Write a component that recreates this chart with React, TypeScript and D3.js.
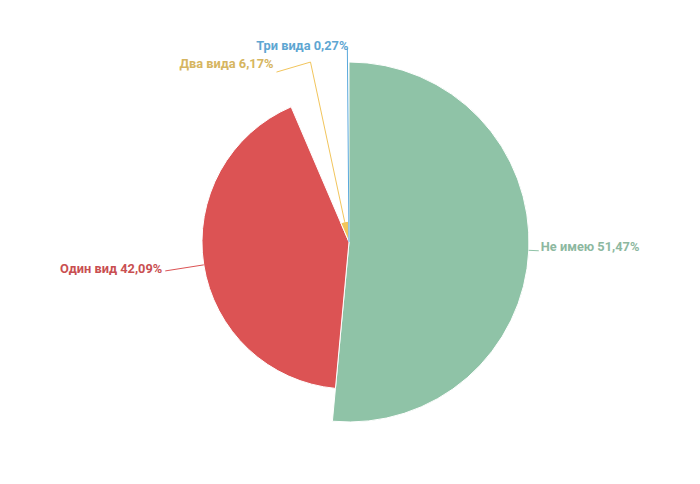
import React from "react";
import * as d3 from "d3";

const categories = ["Не имею", "Один вид", "Два вида", "Три вида"];
const values = [51.47, 42.09, 6.17, 0.27];
const labelTexts = ["Не имею 51,47%", "Один вид 42,09%", "Два вида 6,17%", "Три вида 0,27%"];

const sliceColors = ["#8fc3a7", "#dc5354", "#f2c55c", "#5aa9dc"];
const textColors = ["#8db8a0", "#c94f51", "#d6b560", "#5ea6d2"];

const W = 700;
const H = 484;
const cx = 349;
const cy = 242;
const maxR = 180;

// label layout (radius of elbow, extra text shift)
const elbowR = [190, 186, 184, 191];
const textShiftY = [-4, -2, -8, -5];
const tailLen = [0, 0, 34, 2];

export default function App() {
  const pie = d3
    .pie<number>()
    .sort(null)
    .value((d) => d)(values);
  const ext = d3.extent(values) as [number, number];
  const rScale = d3.scaleLinear().domain(ext).range([0, maxR]);
  const polar = (a: number, r: number): [number, number] => [
    cx + r * Math.sin(a),
    cy - r * Math.cos(a),
  ];

  return (
    <svg
      width={W}
      height={H}
      style={{ position: "absolute", left: 0, top: 0 }}
      fontFamily="Roboto, sans-serif"
    >
      <rect width={W} height={H} fill="#fff" />
      {pie.map((p, i) => {
        const r = rScale(values[i]);
        const arc = d3.arc<any>().innerRadius(0).outerRadius(r);
        return (
          <path
            key={"s" + i}
            d={arc(p) || ""}
            transform={`translate(${cx},${cy})`}
            fill={sliceColors[i]}
            stroke="#fff"
            strokeWidth={1}
            strokeLinejoin="round"
          />
        );
      })}
      {pie.map((p, i) => {
        const r = rScale(values[i]);
        const mid = (p.startAngle + p.endAngle) / 2;
        const p0 = polar(mid, r);
        const p1 = polar(mid, elbowR[i]);
        const right = Math.sin(mid) > 0;
        const ty = p1[1] + textShiftY[i];
        let p2: [number, number];
        if (i === 2) p2 = [p1[0] - tailLen[i], p1[1] + 10];
        else if (i === 3) p2 = [p1[0], p1[1] - 3];
        else p2 = [p1[0] + (right ? tailLen[i] : -tailLen[i]), p1[1]];
        const tx = i === 3 ? p2[0] + 1 : p2[0] + (right ? 2 : -3);
        return (
          <g key={"l" + i}>
            <polyline
              points={[p0, p1, p2].map((q) => q.join(",")).join(" ")}
              fill="none"
              stroke={sliceColors[i]}
              strokeWidth={1}
            />
            <text
              x={tx}
              y={i === 2 ? 64 : ty}
              dy="0.35em"
              textAnchor={right ? "start" : "end"}
              fontSize={12.8}
              fontWeight="bold"
              fill={textColors[i]}
            >
              {labelTexts[i]}
            </text>
          </g>
        );
      })}
    </svg>
  );
}
